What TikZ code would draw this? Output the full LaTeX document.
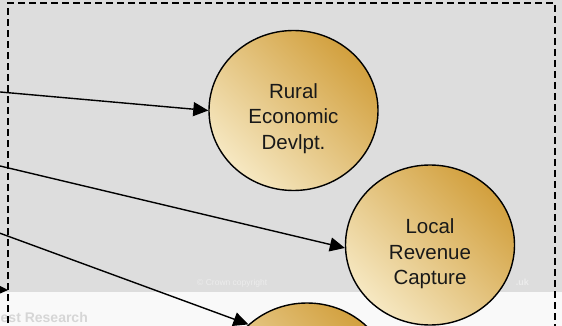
\documentclass[tikz,border=0pt]{standalone}
\usepackage{fontspec}
\setmainfont{Liberation Sans}
\usetikzlibrary{arrows.meta,shapes.geometric}
\definecolor{bgA}{RGB}{221,221,221}
\definecolor{bgB}{RGB}{249,249,249}
\definecolor{goldD}{RGB}{210,160,62}
\definecolor{goldL}{RGB}{246,232,194}
\definecolor{faintA}{RGB}{236,236,236}
\definecolor{faintB}{RGB}{214,214,214}
\tikzset{
  bubble/.style={ellipse, draw=black, line width=1.4pt, minimum width=169pt, minimum height=160pt, inner sep=0pt,
    top color=goldD, bottom color=goldL, shading angle=-45},
  bubbletext/.style={align=center, font=\fontsize{20.5}{25.5}\selectfont, text=black!90},
  conn/.style={line width=1.4pt, -{Triangle[length=15pt,width=14pt]}},
  frame/.style={line width=1.3pt, dash pattern=on 7pt off 4pt},
}
\begin{document}
\begin{tikzpicture}[x=1pt,y=-1pt]
\useasboundingbox (0,0) rectangle (562,326);
\clip (0,0) rectangle (562,326);
\fill[bgA] (0,0) rectangle (562,291.5);
\fill[bgB] (0,291.5) rectangle (562,326);
\node[anchor=west, text=faintA, font=\fontsize{8.5}{10}\selectfont, inner sep=0pt] (crown) at (197,283) {\textcopyright\ Crown copyright};
\node[anchor=east, text=faintA, font=\bfseries\fontsize{9}{10}\selectfont, inner sep=0pt] (uk) at (529,282) {.uk};
\node[anchor=west, text=faintB, font=\bfseries\fontsize{14}{15}\selectfont, inner sep=0pt] (fr) at (0.5,317) {est Research};
\draw[frame] (8,345) -- (8,3) -- (555,3) -- (555,345);
\node[bubble] (rural) at (293.5,110.5) {};
\node[bubbletext] (ruralt) at (293.5,118.5) {Rural\\Economic\\Devlpt.};
\node[bubble] (local) at (430,245) {};
\node[bubbletext] (localt) at (430,254) {Local\\Revenue\\Capture};
\node[bubble] (third) at (307,383) {};
\coordinate (s1) at (-2,91.8);
\coordinate (s2) at (-2,165.5);
\coordinate (s3) at (-2,232.5);
\coordinate (s4) at (-12,289.5);
\coordinate (t4) at (8,290);
\draw[conn] (s1) -- (rural.west);
\draw[conn] (s2) -- (local.182);
\draw[conn] (s3) -- (third.135);
\draw[conn] (s4) -- (t4);
\end{tikzpicture}
\end{document}
